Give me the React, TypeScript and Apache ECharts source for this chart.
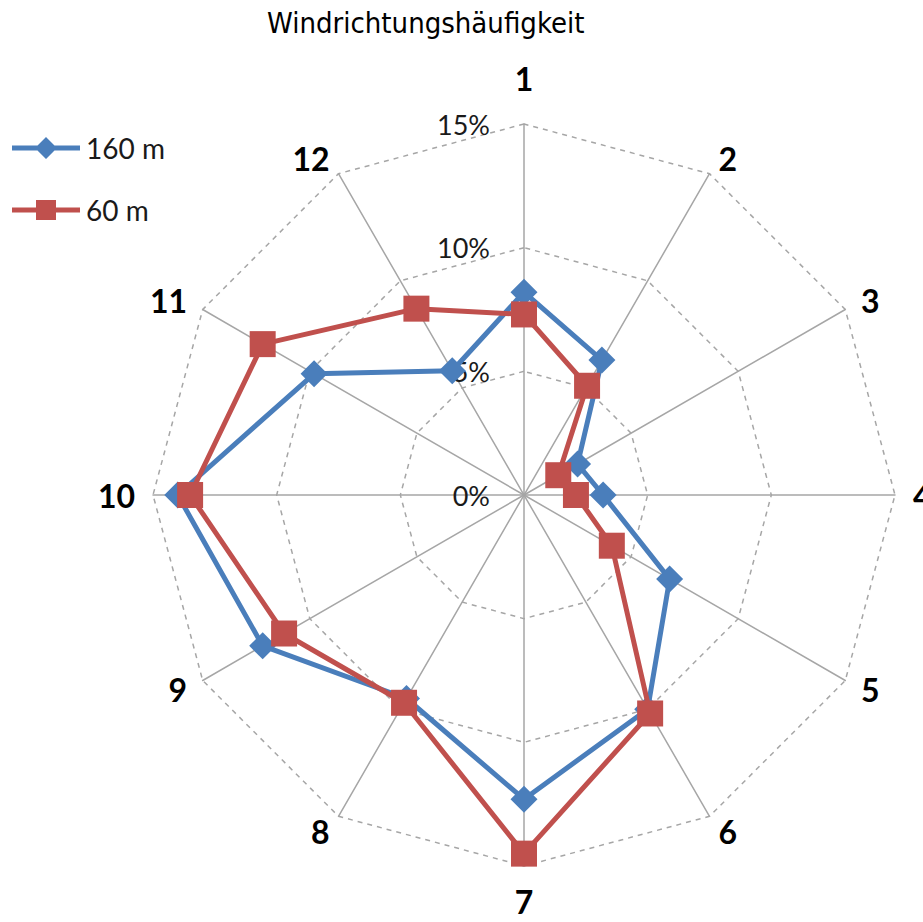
import React, { useEffect, useRef } from "react";
import * as echarts from "echarts";

const categories = ["1", "2", "3", "4", "5", "6", "7", "8", "9", "10", "11", "12"];
const seriesNames = ["160 m", "60 m"];
const values160 = [8.2, 6.3, 2.5, 3.2, 6.8, 10.0, 12.3, 9.5, 12.2, 14.0, 9.8, 5.8];
const values60 = [7.3, 5.1, 1.6, 2.1, 4.1, 10.2, 14.5, 9.7, 11.2, 13.5, 12.2, 8.7];
const axisMax = 15;
const titleText = "Windrichtungshäufigkeit";

const BLUE = "#4A7EBB";
const RED = "#C0504D";
const GRID = "#A6A6A6";

// ECharts radar runs counter-clockwise; reorder so the chart runs clockwise
const order = categories.map((_, i) => (i === 0 ? 0 : categories.length - i));

const blueIcon = "path://M0,8.5 H25.5 L34,0 L42.5,8.5 H68 V13.5 H42.5 L34,22 L25.5,13.5 H0 Z";
const redIcon = "path://M0,7.5 H24 V0 H44 V7.5 H68 V12.5 H44 V20 H24 V12.5 H0 Z";

export default function App() {
  const ref = useRef<HTMLDivElement>(null);
  useEffect(() => {
    if (!ref.current) return;
    const chart = echarts.init(ref.current, null, { renderer: "svg" });
    const font = "Lato, 'Open Sans', sans-serif";
    const gapFor = (name: string) => (name === "1" ? 30 : name === "7" ? 19 : 18);
    chart.setOption({
      animation: false,
      backgroundColor: "#ffffff",
      title: {
        text: titleText,
        left: 267,
        top: 8,
        padding: 0,
        textStyle: {
          fontFamily: "'DejaVu Sans Condensed', 'Liberation Sans Narrow', sans-serif",
          fontWeight: "normal",
          fontSize: 29,
          color: "#000",
        },
      },
      legend: [
        {
          data: [{ name: seriesNames[0], icon: blueIcon }],
          left: 12,
          top: 134,
          itemWidth: 68,
          itemHeight: 22,
          itemGap: 0,
          padding: 0,
          selectedMode: false,
          itemStyle: { borderWidth: 0 },
          textStyle: { fontFamily: font, fontSize: 28, color: "#1a1a1a", padding: [0, 0, 0, 1] },
        },
        {
          data: [{ name: seriesNames[1], icon: redIcon }],
          left: 12,
          top: 196,
          itemWidth: 68,
          itemHeight: 20,
          itemGap: 0,
          padding: 0,
          selectedMode: false,
          itemStyle: { borderWidth: 0 },
          textStyle: { fontFamily: font, fontSize: 28, color: "#1a1a1a", padding: [0, 0, 0, 1] },
        },
      ],
      radar: {
        center: [524, 495],
        radius: 371,
        startAngle: 90,
        shape: "polygon",
        splitNumber: 3,
        nameGap: 18,
        axisName: {
          color: "#000",
          fontFamily: font,
          fontWeight: "bold",
          fontSize: 32,
        },
        indicator: order.map((idx, k) => ({
          name: categories[idx],
          min: 0,
          max: axisMax,
          nameGap: gapFor(categories[idx]),
          axisLabel:
            k === 0
              ? {
                  show: true,
                  formatter: "{value}%",
                  margin: 34,
                  showMinLabel: true,
                  showMaxLabel: true,
                  fontFamily: font,
                  fontSize: 27,
                  color: "#1a1a1a",
                }
              : { show: false },
        })),
        axisLine: { lineStyle: { color: GRID, width: 1.5 } },
        axisTick: { show: false },
        axisLabel: { show: false },
        splitLine: { lineStyle: { color: GRID, width: 1.5, type: [5, 5] } },
        splitArea: { show: false },
      },
      series: [
        {
          type: "radar",
          z: 2,
          data: [
            {
              name: seriesNames[0],
              value: order.map((i) => values160[i]),
              symbol: "diamond",
              symbolSize: 27,
              itemStyle: { color: BLUE, borderWidth: 0 },
              lineStyle: { color: BLUE, width: 5 },
            },
          ],
        },
        {
          type: "radar",
          z: 3,
          data: [
            {
              name: seriesNames[1],
              value: order.map((i) => values60[i]),
              symbol: "rect",
              symbolSize: 26,
              itemStyle: { color: RED, borderWidth: 0 },
              lineStyle: { color: RED, width: 5 },
            },
          ],
        },
      ],
    });
    return () => chart.dispose();
  }, []);
  return (
    <div
      ref={ref}
      style={{ position: "fixed", left: 0, top: 0, width: 923, height: 922, background: "#fff" }}
    />
  );
}
